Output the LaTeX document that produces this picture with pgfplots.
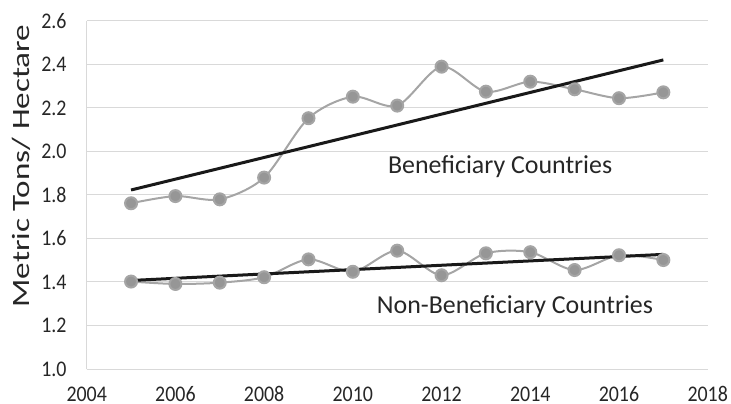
\documentclass[border=0pt]{standalone}
\usepackage{fontspec}
\setmainfont{Carlito}
\usepackage{pgfplots}
\pgfplotsset{compat=1.18}
\definecolor{gridc}{RGB}{217,217,217}
\definecolor{serc}{RGB}{165,165,165}
\definecolor{markc}{RGB}{150,150,150}
\definecolor{txt}{RGB}{38,38,38}
\begin{document}
\begin{tikzpicture}
\begin{axis}[
  scale only axis, width=621bp, height=348bp,
  xmin=2004, xmax=2018, ymin=1.0, ymax=2.6,
  xtick={2004,2006,2008,2010,2012,2014,2016,2018},
  ytick={1.0,1.2,1.4,1.6,1.8,2.0,2.2,2.4,2.6},
  /pgf/number format/assume math mode=true,
  yticklabel style={/pgf/number format/fixed, /pgf/number format/fixed zerofill, /pgf/number format/precision=1},
  xticklabel style={/pgf/number format/1000 sep={}},
  axis x line*=bottom, axis y line*=left,
  axis line style={gridc, line width=1bp, -},
  ymajorgrids, major grid style={gridc, line width=1bp},
  tick style={draw=none},
  ticklabel style={font=\fontsize{20}{24}\selectfont, text=txt, yscale=1.12},
  yticklabel style={inner sep=0pt, anchor=east, xshift=-20bp},
  xticklabel style={inner sep=0pt, anchor=north, yshift=-15.5bp},
  ylabel={Metric Tons/ Hectare},
  every axis y label/.style={at={(axis description cs:-0.1058,0.583)}, rotate=90, xscale=1.33, anchor=center, font=\fontsize{25}{30}\selectfont, text=txt},
  clip=false,
]
\coordinate (sw) at (rel axis cs:0,0);
% Beneficiary Countries
\addplot[serc, line width=2bp, smooth, mark=*, mark size=6bp, mark options={fill=markc, draw=none}] coordinates {
(2005,1.762) (2006,1.795) (2007,1.780) (2008,1.880) (2009,2.153) (2010,2.252) (2011,2.211)
(2012,2.390) (2013,2.275) (2014,2.321) (2015,2.286) (2016,2.245) (2017,2.272)};
% Non-Beneficiary Countries
\addplot[serc, line width=2bp, smooth, mark=*, mark size=6bp, mark options={fill=markc, draw=none}] coordinates {
(2005,1.402) (2006,1.391) (2007,1.397) (2008,1.422) (2009,1.504) (2010,1.447) (2011,1.544)
(2012,1.431) (2013,1.532) (2014,1.537) (2015,1.455) (2016,1.523) (2017,1.501)};
% trend lines
\addplot[black!90, line width=3bp] coordinates {(2005,1.823) (2017,2.421)};
\addplot[black!90, line width=3bp] coordinates {(2005,1.407) (2017,1.527)};
\node[anchor=base west, inner sep=0pt, font=\fontsize{26}{30}\selectfont, text=txt] at (axis cs:2010.79,1.900) {Beneficiary Countries};
\node[anchor=base west, inner sep=0pt, font=\fontsize{26}{30}\selectfont, text=txt] at (axis cs:2010.54,1.253) {Non-Beneficiary Countries};
\end{axis}
\pgfresetboundingbox
\useasboundingbox (sw) ++(-86.7bp,-35bp) rectangle ++(731bp,404bp);
\end{tikzpicture}
\end{document}
